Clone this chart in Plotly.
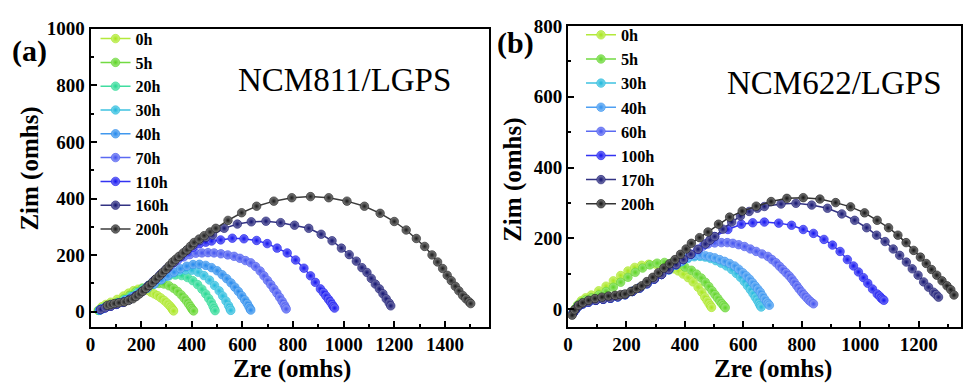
import plotly.graph_objects as go

FONT = "Liberation Serif, Times New Roman, serif"

# ---------------- Panel (a): NCM811/LGPS ----------------
A_LABELS = ["0h", "5h", "20h", "30h", "40h", "70h", "110h", "160h", "200h"]
A_COLORS = ["#a6e619", "#5ad421", "#20d890", "#1cb8dc", "#1f86ec", "#3f50f0", "#1010f0", "#10106e", "#1a1a1a"]

a_0h_x = [30, 40, 45, 60, 80, 105, 130, 150, 170, 188, 205, 222, 239, 252, 265, 278, 291, 302, 311, 318, 323, 326, 328]
a_0h_y = [5, 12, 18, 26, 34, 44, 56, 66, 75, 80, 80, 76, 69, 63, 57, 49, 40, 31, 23, 16, 10, 6, 3]

a_5h_x = [32, 42, 58, 80, 105, 130, 155, 180, 205, 228, 250, 270, 290, 310, 328, 344, 358, 370, 380, 388, 395, 400, 404, 407]
a_5h_y = [5, 11, 18, 25, 33, 45, 58, 72, 84, 93, 98, 100, 98, 92, 83, 72, 60, 48, 37, 27, 18, 11, 6, 3]

a_20h_x = [34, 45, 60, 82, 108, 135, 160, 185, 210, 235, 260, 285, 310, 335, 360, 383, 404, 423, 440, 455, 467, 477, 484, 489, 492]
a_20h_y = [5, 11, 18, 25, 32, 43, 55, 68, 82, 96, 109, 120, 127, 130, 128, 121, 110, 96, 80, 63, 47, 33, 20, 10, 4]

a_30h_x = [35, 46, 62, 84, 110, 138, 165, 192, 220, 248, 275, 300, 325, 350, 375, 400, 425, 448, 470, 490, 508, 522, 535, 545, 551, 554]
a_30h_y = [6, 11, 18, 25, 32, 42, 54, 68, 83, 98, 113, 126, 137, 144, 148, 147, 140, 128, 112, 93, 74, 56, 38, 22, 11, 5]

a_40h_x = [36, 48, 64, 86, 112, 140, 168, 196, 224, 252, 280, 305, 330, 355, 380, 405, 430, 455, 478, 500, 520, 538, 555, 570, 584, 597, 609, 619, 626, 631, 633]
a_40h_y = [6, 11, 18, 25, 32, 42, 54, 68, 83, 98, 113, 127, 140, 152, 161, 167, 168, 164, 156, 145, 131, 117, 102, 87, 72, 57, 42, 29, 18, 10, 6]

a_70h_x = [38, 55, 78, 102, 128, 152, 176, 200, 224, 248, 272, 296, 320, 344, 368, 392, 416, 440, 464, 488, 515, 542, 567, 590, 612, 633, 652, 670, 685, 699, 712, 724, 736, 747, 757, 765, 770, 773]
a_70h_y = [7, 13, 20, 26, 33, 42, 55, 70, 88, 108, 128, 148, 166, 182, 194, 202, 207, 208, 209, 208, 205, 201, 196, 189, 181, 173, 160, 144, 127, 111, 96, 81, 66, 51, 37, 25, 16, 10]

a_110h_x = [40, 58, 80, 104, 130, 155, 180, 205, 230, 255, 280, 305, 330, 355, 380, 405, 430, 455, 478, 514, 560, 606, 656, 698, 737, 777, 810, 843, 869, 888, 908, 920, 930, 940, 948, 955, 960, 964]
a_110h_y = [8, 14, 20, 27, 34, 44, 57, 73, 93, 113, 134, 155, 175, 194, 212, 228, 240, 246, 250, 254, 260, 258, 252, 241, 225, 208, 183, 154, 127, 104, 81, 68, 56, 44, 35, 25, 18, 13]

a_160h_x = [40, 58, 80, 104, 130, 155, 180, 205, 230, 255, 280, 305, 330, 355, 380, 405, 430, 455, 482, 528, 580, 635, 693, 751, 806, 862, 911, 954, 991, 1022, 1050, 1072, 1092, 1109, 1125, 1141, 1155, 1168, 1180, 1186]
a_160h_y = [8, 14, 20, 27, 34, 44, 57, 73, 93, 113, 134, 155, 175, 196, 217, 236, 252, 263, 271, 295, 310, 318, 320, 315, 306, 295, 274, 251, 225, 202, 179, 156, 139, 118, 98, 81, 64, 46, 31, 21]

a_200h_x = [67, 80, 94, 112, 134, 150, 167, 180, 193, 206, 219, 232, 245, 258, 272, 285, 298, 311, 324, 337, 350, 366, 381, 395, 409, 429, 449, 472, 495, 543, 597, 656, 724, 795, 869, 941, 1013, 1082, 1144, 1200, 1247, 1287, 1320, 1349, 1371, 1391, 1409, 1425, 1441, 1455, 1470, 1483, 1496, 1502]
a_200h_y = [23, 26, 29, 32, 35, 40, 46, 54, 63, 73, 83, 93, 104, 116, 127, 139, 150, 163, 176, 186, 196, 208, 219, 232, 245, 257, 269, 282, 295, 323, 350, 373, 391, 403, 407, 403, 391, 373, 348, 319, 289, 259, 231, 201, 176, 153, 129, 110, 90, 74, 58, 46, 35, 29]

A_X = [a_0h_x, a_5h_x, a_20h_x, a_30h_x, a_40h_x, a_70h_x, a_110h_x, a_160h_x, a_200h_x]
A_Y = [a_0h_y, a_5h_y, a_20h_y, a_30h_y, a_40h_y, a_70h_y, a_110h_y, a_160h_y, a_200h_y]

# ---------------- Panel (b): NCM622/LGPS ----------------
B_LABELS = ["0h", "5h", "30h", "40h", "60h", "100h", "170h", "200h"]
B_COLORS = ["#a6e619", "#5ad421", "#1cb8dc", "#2f8ff0", "#3f50f0", "#1010f0", "#10106e", "#111111"]

b_0h_x = [18, 25, 33, 45, 60, 80, 105, 130, 155, 180, 205, 228, 252, 276, 300, 322, 342, 360, 377, 394, 411, 428, 445, 458, 468, 476, 483, 488, 491]
b_0h_y = [-8, 2, 12, 24, 32, 40, 52, 65, 80, 95, 108, 118, 124, 127, 127, 125, 120, 114, 108, 99, 89, 77, 62, 48, 34, 24, 15, 9, 5]

b_5h_x = [18, 25, 33, 45, 60, 80, 105, 130, 155, 180, 205, 230, 255, 280, 305, 330, 355, 378, 400, 422, 440, 456, 470, 482, 493, 503, 512, 520, 527, 532, 536, 538]
b_5h_y = [-8, 2, 12, 19, 26, 32, 40, 50, 62, 76, 90, 104, 116, 125, 130, 132, 131, 127, 119, 110, 99, 88, 76, 64, 52, 41, 31, 22, 15, 10, 6, 4]

b_30h_x = [18, 25, 35, 50, 70, 95, 120, 145, 170, 195, 220, 245, 270, 295, 320, 345, 368, 388, 410, 432, 452, 470, 488, 506, 524, 542, 560, 576, 590, 603, 614, 624, 633, 641, 648, 654, 658, 661]
b_30h_y = [-10, -2, 8, 15, 20, 25, 28, 31, 35, 41, 50, 60, 72, 85, 98, 111, 124, 134, 143, 148, 149, 147, 143, 137, 130, 122, 112, 101, 90, 78, 66, 55, 44, 34, 25, 16, 10, 6]

b_40h_x = [18, 25, 35, 50, 70, 95, 120, 145, 170, 195, 220, 245, 270, 295, 320, 345, 368, 388, 410, 434, 452, 470, 486, 502, 519, 536, 553, 570, 584, 598, 610, 621, 631, 640, 649, 658, 665, 672, 680, 685, 689]
b_40h_y = [-10, -2, 8, 15, 20, 25, 28, 31, 35, 41, 50, 60, 72, 85, 98, 111, 124, 135, 146, 152, 153, 151, 148, 145, 140, 135, 129, 122, 113, 103, 94, 85, 75, 66, 57, 48, 38, 29, 20, 15, 11]

b_60h_x = [18, 25, 35, 50, 70, 95, 120, 145, 170, 195, 220, 245, 270, 295, 320, 345, 370, 395, 420, 445, 462, 479, 502, 525, 545, 564, 584, 604, 624, 644, 664, 684, 698, 712, 724, 735, 746, 757, 766, 774, 783, 791, 800, 808, 817, 825, 832, 840]
b_60h_y = [-10, -2, 8, 15, 20, 25, 28, 31, 35, 41, 50, 60, 72, 85, 98, 112, 126, 140, 155, 168, 178, 184, 187, 188, 188, 186, 182, 177, 170, 163, 156, 149, 140, 131, 121, 112, 103, 94, 85, 76, 66, 57, 48, 40, 32, 25, 20, 15]

b_100h_x = [18, 25, 35, 50, 70, 95, 120, 145, 170, 195, 220, 245, 270, 295, 320, 345, 370, 395, 420, 445, 470, 486, 502, 547, 593, 632, 672, 721, 765, 805, 840, 876, 905, 931, 956, 977, 994, 1011, 1026, 1042, 1058, 1066, 1072, 1077, 1081]
b_100h_y = [-10, -2, 8, 15, 20, 25, 28, 31, 35, 41, 50, 60, 72, 85, 98, 112, 126, 140, 155, 169, 184, 195, 205, 225, 240, 244, 246, 243, 237, 225, 214, 197, 181, 163, 140, 122, 105, 89, 73, 57, 43, 37, 31, 28, 25]

b_170h_x = [18, 25, 35, 50, 70, 95, 120, 145, 170, 195, 220, 245, 270, 295, 320, 345, 370, 395, 420, 445, 470, 486, 502, 530, 560, 590, 620, 648, 672, 729, 780, 834, 888, 937, 981, 1022, 1056, 1085, 1113, 1135, 1158, 1178, 1198, 1217, 1234, 1251, 1260, 1268]
b_170h_y = [-10, -2, 8, 15, 20, 25, 28, 31, 35, 41, 50, 60, 72, 85, 98, 112, 126, 140, 155, 169, 184, 195, 205, 226, 246, 263, 276, 285, 290, 297, 299, 294, 285, 269, 251, 230, 209, 191, 170, 152, 133, 114, 96, 77, 62, 48, 41, 34]

b_200h_x = [14, 22, 36, 50, 70, 92, 116, 138, 161, 180, 195, 215, 234, 252, 270, 290, 309, 328, 347, 366, 385, 404, 422, 450, 479, 515, 553, 596, 644, 695, 749, 805, 862, 916, 967, 1015, 1058, 1097, 1129, 1157, 1183, 1206, 1226, 1244, 1262, 1280, 1297, 1310, 1321]
b_200h_y = [-17, -2, 11, 18, 25, 30, 34, 37, 39, 41, 43, 50, 58, 66, 78, 90, 103, 116, 128, 140, 155, 170, 186, 202, 218, 240, 260, 277, 291, 304, 313, 315, 311, 301, 289, 272, 251, 230, 209, 188, 166, 147, 129, 112, 96, 80, 66, 55, 40]

B_X = [b_0h_x, b_5h_x, b_30h_x, b_40h_x, b_60h_x, b_100h_x, b_170h_x, b_200h_x]
B_Y = [b_0h_y, b_5h_y, b_30h_y, b_40h_y, b_60h_y, b_100h_y, b_170h_y, b_200h_y]


def tint(hex_color, f):
    h = hex_color.lstrip("#")
    r, g, b = (int(h[i:i + 2], 16) for i in (0, 2, 4))
    r = int(r + (255 - r) * f)
    g = int(g + (255 - g) * f)
    b = int(b + (255 - b) * f)
    return f"rgb({r},{g},{b})"


W, H = 963, 383
fig = go.Figure()


def add_series(labels, colors, xs_all, ys_all, xa, ya, leg):
    for lab, col, xs, ys in zip(labels, colors, xs_all, ys_all):
        fig.add_trace(go.Scatter(
            x=xs, y=ys, mode="lines+markers", name=lab,
            xaxis=xa, yaxis=ya, legend=leg, legendgroup=leg + lab,
            line=dict(color=tint(col, 0.15), width=1.5),
            marker=dict(size=8.5, color=tint(col, 0.45),
                        gradient=dict(type="radial", color=col),
                        line=dict(width=0.6, color=col)),
        ))


add_series(A_LABELS, A_COLORS, A_X, A_Y, "x", "y", "legend")
add_series(B_LABELS, B_COLORS, B_X, B_Y, "x2", "y2", "legend2")

tickfont = dict(family=FONT, size=19, color="black", weight="bold")


def axis(domain, rng, anchor, dtick, minor):
    return dict(domain=domain, range=rng, anchor=anchor, showline=True, linewidth=2,
                linecolor="black", mirror=True, ticks="inside", ticklen=6, tickwidth=2,
                tickcolor="black", tick0=0, dtick=dtick,
                minor=dict(dtick=minor, ticks="inside", ticklen=3, tickwidth=1.5, tickcolor="black"),
                showgrid=False, zeroline=False, tickfont=tickfont)


ydom_a = [1 - 325 / H, 1 - 19 / H]
ydom_b = [1 - 325 / H, 1 - 16 / H]

fig.update_layout(
    width=W, height=H, margin=dict(l=0, r=0, t=0, b=0),
    paper_bgcolor="white", plot_bgcolor="white",
    xaxis=axis([86 / W, 487 / W], [0, 1576], "y", 200, 100),
    yaxis=axis(ydom_a, [-52, 1001], "x", 200, 100),
    xaxis2=axis([566 / W, 961 / W], [0, 1345], "y2", 200, 100),
    yaxis2=axis(ydom_b, [-49, 801], "x2", 200, 100),
    legend=dict(x=91 / W, y=1 - 12 / H, xanchor="left", yanchor="top",
                bgcolor="rgba(0,0,0,0)", tracegroupgap=0, itemwidth=30,
                font=dict(family=FONT, size=16, color="black", weight="bold")),
    legend2=dict(x=579 / W, y=1 - 8 / H, xanchor="left", yanchor="top",
                 bgcolor="rgba(0,0,0,0)", tracegroupgap=0, itemwidth=30,
                 font=dict(family=FONT, size=16.25, color="black", weight="bold")),
    showlegend=True,
)

bold_title = dict(family=FONT, size=25, color="black", weight="bold")
ann = [
    dict(text="Zre (omhs)", x=288 / W, y=1 - 369 / H, font=bold_title),
    dict(text="Zre (omhs)", x=772 / W, y=1 - 369 / H, font=bold_title),
    dict(text="Zim (omhs)", x=25 / W, y=1 - 163 / H, font=bold_title, textangle=-90),
    dict(text="Zim (omhs)", x=511 / W, y=1 - 174 / H, font=bold_title, textangle=-90),
    dict(text="(a)", x=25 / W, y=1 - 42 / H, font=dict(family=FONT, size=30, color="black", weight="bold")),
    dict(text="(b)", x=513 / W, y=1 - 34 / H, font=dict(family=FONT, size=30, color="black", weight="bold")),
    dict(text="NCM811/LGPS", x=341 / W, y=1 - 72 / H, font=dict(family=FONT, size=33, color="black")),
    dict(text="NCM622/LGPS", x=834 / W, y=1 - 75 / H, font=dict(family=FONT, size=33, color="black")),
]
for a in ann:
    a.update(xref="paper", yref="paper", showarrow=False, xanchor="center", yanchor="middle")
fig.update_layout(annotations=ann)

fig.write_html("out.html")
